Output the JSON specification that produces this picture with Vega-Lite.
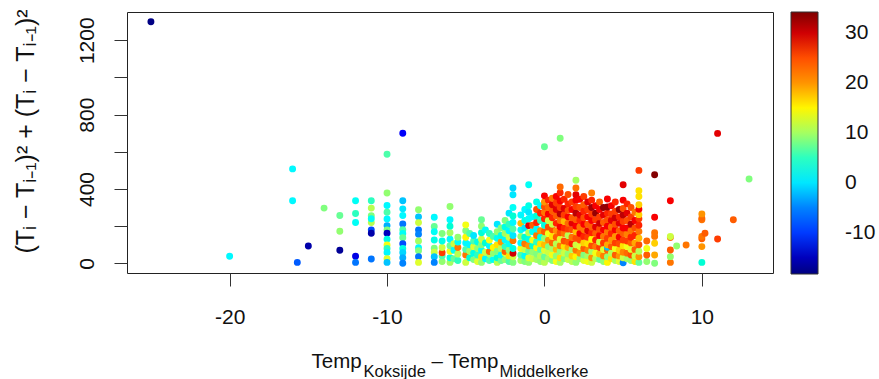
{
"$schema": "https://vega.github.io/schema/vega-lite/v6.json",
"width": 646, "height": 261,
"autosize": {"type": "none"},
"padding": {"left": 127, "top": 12, "right": 106, "bottom": 106},
"background": "white",
"config": {
  "view": {"stroke": "#222", "strokeWidth": 1},
  "axis": {"labelFont": "Liberation Sans", "titleFont": "Liberation Sans", "labelColor": "#111", "titleColor": "#111", "tickColor": "#333", "tickWidth": 1, "grid": false, "domain": false, "tickSize": 13, "labelFontSize": 21, "labelOverlap": false, "labelFlush": false, "titleFontWeight": "normal"}
},
"datasets": {"pts": [
{"x":-25,"y":1300,"c":-18},{"x":-20,"y":38,"c":1},{"x":-16,"y":508,"c":1},{"x":-16,"y":337,"c":1},{"x":-15.7,"y":5,"c":-8},{"x":-15,"y":93,"c":-16},{"x":-14,"y":297,"c":8},
{"x":-13,"y":257,"c":7},{"x":-13,"y":173,"c":9},{"x":-13,"y":70,"c":-17},
{"x":-12,"y":337,"c":2},{"x":-12,"y":268,"c":5},{"x":-12,"y":220,"c":2},{"x":-12,"y":38,"c":-13},{"x":-12,"y":5,"c":-6},
{"x":-11,"y":337,"c":5},{"x":-11,"y":297,"c":11},{"x":-11,"y":256,"c":8},{"x":-11,"y":219,"c":11},{"x":-11,"y":240,"c":2},{"x":-11,"y":180,"c":-9},{"x":-11,"y":162,"c":-16},{"x":-11,"y":23,"c":-6},
{"x":-10,"y":587,"c":6},{"x":-10,"y":378,"c":9},{"x":-10,"y":311,"c":1},{"x":-10,"y":275,"c":6},{"x":-10,"y":239,"c":1},{"x":-10,"y":203,"c":-3},{"x":-10,"y":180,"c":8},{"x":-10,"y":162,"c":-15},{"x":-10,"y":130,"c":3},{"x":-10,"y":99,"c":14},{"x":-10,"y":80,"c":5},{"x":-10,"y":58,"c":1},{"x":-10,"y":25,"c":13},{"x":-10,"y":5,"c":-2},
{"x":-9,"y":700,"c":-12},{"x":-9,"y":337,"c":-2},{"x":-9,"y":293,"c":0},{"x":-9,"y":257,"c":1},{"x":-9,"y":212,"c":-6},{"x":-9,"y":181,"c":6},{"x":-9,"y":160,"c":2},{"x":-9,"y":138,"c":7},{"x":-9,"y":105,"c":-9},{"x":-9,"y":80,"c":3},{"x":-9,"y":58,"c":-1},{"x":-9,"y":30,"c":-3},{"x":-9,"y":0,"c":-5},
{"x":-8,"y":288,"c":9},{"x":-8,"y":250,"c":-2},{"x":-8,"y":219,"c":12},{"x":-8,"y":180,"c":-6},{"x":-8,"y":156,"c":-5},{"x":-8,"y":120,"c":10},{"x":-8,"y":84,"c":1},{"x":-8,"y":68,"c":8},{"x":-8,"y":36,"c":-6},{"x":-8,"y":5,"c":13},
{"x":-7,"y":248,"c":1},{"x":-7,"y":198,"c":7},{"x":-7,"y":170,"c":2},{"x":-7,"y":126,"c":3},{"x":-7,"y":81,"c":8},{"x":-7,"y":60,"c":12},{"x":-7,"y":36,"c":-2},{"x":-7,"y":5,"c":-5},
{"x":-6.5,"y":10,"c":9},{"x":-6.5,"y":40,"c":6},{"x":-6.5,"y":57,"c":26},{"x":-6.5,"y":85,"c":12},{"x":-6.5,"y":120,"c":3},{"x":-6.5,"y":160,"c":8},
{"x":-6,"y":5,"c":10},{"x":-6,"y":30,"c":3},{"x":-6,"y":65,"c":14},{"x":-6,"y":95,"c":7},{"x":-6,"y":130,"c":1},{"x":-6,"y":165,"c":10},{"x":-6,"y":200,"c":4},{"x":-6,"y":234,"c":1},{"x":-6,"y":306,"c":9},
{"x":-5.75,"y":25,"c":7},{"x":-5.75,"y":70,"c":2},{"x":-5.75,"y":105,"c":12},
{"x":-5.5,"y":15,"c":5},{"x":-5.5,"y":50,"c":11},{"x":-5.5,"y":85,"c":22},{"x":-5.5,"y":115,"c":2},{"x":-5.5,"y":140,"c":9},
{"x":-5,"y":5,"c":12},{"x":-5,"y":45,"c":22},{"x":-5,"y":75,"c":6},{"x":-5,"y":110,"c":1},{"x":-5,"y":140,"c":15},{"x":-5,"y":175,"c":8},{"x":-5,"y":207,"c":14},
{"x":-4.75,"y":30,"c":4},{"x":-4.75,"y":65,"c":10},{"x":-4.75,"y":100,"c":1},{"x":-4.75,"y":160,"c":6},
{"x":-4.5,"y":20,"c":8},{"x":-4.5,"y":55,"c":3},{"x":-4.5,"y":90,"c":13},{"x":-4.5,"y":120,"c":6},{"x":-4.5,"y":150,"c":0},
{"x":-4.25,"y":10,"c":13},{"x":-4.25,"y":45,"c":5},{"x":-4.25,"y":80,"c":9},{"x":-4.25,"y":115,"c":3},
{"x":-4,"y":5,"c":9},{"x":-4,"y":35,"c":16},{"x":-4,"y":70,"c":2},{"x":-4,"y":100,"c":8},{"x":-4,"y":130,"c":12},{"x":-4,"y":165,"c":4},{"x":-4,"y":200,"c":9},{"x":-4,"y":234,"c":7},
{"x":-3.75,"y":25,"c":1},{"x":-3.75,"y":60,"c":12},{"x":-3.75,"y":110,"c":4},{"x":-3.75,"y":180,"c":2},
{"x":-3.5,"y":15,"c":6},{"x":-3.5,"y":50,"c":10},{"x":-3.5,"y":63,"c":23},{"x":-3.5,"y":95,"c":1},{"x":-3.5,"y":125,"c":14},{"x":-3.5,"y":160,"c":5},
{"x":-3.25,"y":20,"c":2},{"x":-3.25,"y":55,"c":9},{"x":-3.25,"y":85,"c":15},{"x":-3.25,"y":145,"c":6},
{"x":-3,"y":5,"c":11},{"x":-3,"y":30,"c":4},{"x":-3,"y":65,"c":8},{"x":-3,"y":100,"c":16},{"x":-3,"y":135,"c":2},{"x":-3,"y":170,"c":9},{"x":-3,"y":210,"c":0},
{"x":-2.75,"y":15,"c":7},{"x":-2.75,"y":45,"c":1},{"x":-2.75,"y":80,"c":11},{"x":-2.75,"y":115,"c":20},{"x":-2.75,"y":150,"c":3},{"x":-2.75,"y":190,"c":8},
{"x":-2.5,"y":20,"c":9},{"x":-2.5,"y":55,"c":13},{"x":-2.5,"y":63,"c":24},{"x":-2.5,"y":90,"c":5},{"x":-2.5,"y":125,"c":1},{"x":-2.5,"y":160,"c":10},{"x":-2.5,"y":195,"c":3},{"x":-2.5,"y":230,"c":8},
{"x":-2.25,"y":10,"c":6},{"x":-2.25,"y":40,"c":16},{"x":-2.25,"y":70,"c":9},{"x":-2.25,"y":105,"c":2},{"x":-2.25,"y":140,"c":12},{"x":-2.25,"y":175,"c":1},{"x":-2.25,"y":210,"c":5},{"x":-2.25,"y":270,"c":0},
{"x":-2,"y":5,"c":8},{"x":-2,"y":35,"c":12},{"x":-2,"y":54,"c":30},{"x":-2,"y":80,"c":3},{"x":-2,"y":122,"c":22},{"x":-2,"y":150,"c":0},{"x":-2,"y":185,"c":6},{"x":-2,"y":220,"c":1},{"x":-2,"y":255,"c":4},{"x":-2,"y":300,"c":2},{"x":-2,"y":369,"c":0},{"x":-2,"y":405,"c":-1},
{"x":-1.5,"y":15,"c":10},{"x":-1.5,"y":45,"c":6},{"x":-1.5,"y":80,"c":14},{"x":-1.5,"y":110,"c":1},{"x":-1.5,"y":145,"c":9},{"x":-1.5,"y":180,"c":2},{"x":-1.5,"y":215,"c":18},{"x":-1.5,"y":260,"c":1},
{"x":-1.25,"y":10,"c":8},{"x":-1.25,"y":40,"c":2},{"x":-1.25,"y":75,"c":12},{"x":-1.25,"y":105,"c":22},{"x":-1.25,"y":140,"c":4},{"x":-1.25,"y":190,"c":0},{"x":-1.25,"y":230,"c":3},{"x":-1.25,"y":290,"c":1},
{"x":-1,"y":5,"c":9},{"x":-1,"y":30,"c":13},{"x":-1,"y":65,"c":7},{"x":-1,"y":95,"c":20},{"x":-1,"y":130,"c":3},{"x":-1,"y":165,"c":11},{"x":-1,"y":203,"c":29},{"x":-1,"y":240,"c":2},{"x":-1,"y":275,"c":0},{"x":-1,"y":310,"c":3},{"x":-1,"y":423,"c":2},
{"x":-0.75,"y":25,"c":12},{"x":-0.75,"y":60,"c":9},{"x":-0.75,"y":95,"c":4},{"x":-0.75,"y":125,"c":14},{"x":-0.75,"y":170,"c":2},{"x":-0.75,"y":205,"c":24},{"x":-0.75,"y":250,"c":1},
{"x":-0.5,"y":20,"c":10},{"x":-0.5,"y":50,"c":8},{"x":-0.5,"y":85,"c":15},{"x":-0.5,"y":115,"c":5},{"x":-0.5,"y":150,"c":22},{"x":-0.5,"y":185,"c":1},{"x":-0.5,"y":220,"c":27},{"x":-0.5,"y":255,"c":4},{"x":-0.5,"y":290,"c":25},{"x":-0.5,"y":330,"c":3},
{"x":-0.25,"y":10,"c":9},{"x":-0.25,"y":40,"c":11},{"x":-0.25,"y":75,"c":6},{"x":-0.25,"y":105,"c":16},{"x":-0.25,"y":140,"c":3},{"x":-0.25,"y":175,"c":20},{"x":-0.25,"y":230,"c":5},{"x":-0.25,"y":270,"c":27},{"x":-0.25,"y":310,"c":1},
{"x":0,"y":5,"c":11},{"x":0,"y":35,"c":7},{"x":0,"y":70,"c":13},{"x":0,"y":100,"c":18},{"x":0,"y":135,"c":9},{"x":0,"y":170,"c":24},{"x":0,"y":205,"c":3},{"x":0,"y":240,"c":27},{"x":0,"y":275,"c":22},{"x":0,"y":305,"c":25},{"x":0,"y":330,"c":20},{"x":0,"y":363,"c":28},{"x":0,"y":627,"c":7},
{"x":0.25,"y":25,"c":10},{"x":0.25,"y":60,"c":12},{"x":0.25,"y":90,"c":8},{"x":0.25,"y":125,"c":20},{"x":0.25,"y":160,"c":14},{"x":0.25,"y":195,"c":25},{"x":0.25,"y":230,"c":12},{"x":0.25,"y":265,"c":28},{"x":0.25,"y":300,"c":23},{"x":0.25,"y":340,"c":27},
{"x":0.5,"y":15,"c":8},{"x":0.5,"y":45,"c":14},{"x":0.5,"y":80,"c":10},{"x":0.5,"y":110,"c":23},{"x":0.5,"y":145,"c":16},{"x":0.5,"y":180,"c":25},{"x":0.5,"y":210,"c":12},{"x":0.5,"y":245,"c":27},{"x":0.5,"y":280,"c":24},{"x":0.5,"y":315,"c":29},{"x":0.5,"y":350,"c":22},
{"x":0.75,"y":10,"c":14},{"x":0.75,"y":40,"c":9},{"x":0.75,"y":75,"c":18},{"x":0.75,"y":105,"c":11},{"x":0.75,"y":140,"c":24},{"x":0.75,"y":175,"c":20},{"x":0.75,"y":215,"c":27},{"x":0.75,"y":255,"c":24},{"x":0.75,"y":290,"c":29},{"x":0.75,"y":325,"c":26},{"x":0.75,"y":360,"c":28},
{"x":1,"y":5,"c":10},{"x":1,"y":30,"c":16},{"x":1,"y":65,"c":9},{"x":1,"y":95,"c":21},{"x":1,"y":130,"c":13},{"x":1,"y":165,"c":25},{"x":1,"y":195,"c":28},{"x":1,"y":230,"c":22},{"x":1,"y":265,"c":31},{"x":1,"y":300,"c":26},{"x":1,"y":335,"c":28},{"x":1,"y":380,"c":27},{"x":1,"y":411,"c":23},{"x":1,"y":673,"c":8},
{"x":1.25,"y":25,"c":8},{"x":1.25,"y":55,"c":12},{"x":1.25,"y":90,"c":16},{"x":1.25,"y":120,"c":25},{"x":1.25,"y":160,"c":22},{"x":1.25,"y":190,"c":27},{"x":1.25,"y":225,"c":18},{"x":1.25,"y":260,"c":26},{"x":1.25,"y":295,"c":29},{"x":1.25,"y":345,"c":27},
{"x":1.5,"y":20,"c":12},{"x":1.5,"y":50,"c":9},{"x":1.5,"y":85,"c":19},{"x":1.5,"y":115,"c":24},{"x":1.5,"y":150,"c":11},{"x":1.5,"y":185,"c":26},{"x":1.5,"y":215,"c":23},{"x":1.5,"y":250,"c":28},{"x":1.5,"y":285,"c":25},{"x":1.5,"y":320,"c":27},{"x":1.5,"y":370,"c":25},
{"x":1.75,"y":10,"c":11},{"x":1.75,"y":40,"c":17},{"x":1.75,"y":75,"c":10},{"x":1.75,"y":105,"c":27},{"x":1.75,"y":140,"c":22},{"x":1.75,"y":180,"c":25},{"x":1.75,"y":215,"c":29},{"x":1.75,"y":245,"c":24},{"x":1.75,"y":290,"c":28},{"x":1.75,"y":330,"c":26},
{"x":2,"y":5,"c":9},{"x":2,"y":35,"c":15},{"x":2,"y":70,"c":22},{"x":2,"y":100,"c":12},{"x":2,"y":135,"c":25},{"x":2,"y":170,"c":18},{"x":2,"y":200,"c":28},{"x":2,"y":235,"c":24},{"x":2,"y":270,"c":31},{"x":2,"y":305,"c":26},{"x":2,"y":340,"c":28},{"x":2,"y":369,"c":29},{"x":2,"y":405,"c":22},{"x":2,"y":447,"c":10},
{"x":2.25,"y":25,"c":9},{"x":2.25,"y":55,"c":20},{"x":2.25,"y":90,"c":13},{"x":2.25,"y":125,"c":25},{"x":2.25,"y":160,"c":28},{"x":2.25,"y":195,"c":22},{"x":2.25,"y":230,"c":27},{"x":2.25,"y":260,"c":29},{"x":2.25,"y":300,"c":25},{"x":2.25,"y":345,"c":28},
{"x":2.5,"y":15,"c":13},{"x":2.5,"y":45,"c":8},{"x":2.5,"y":80,"c":24},{"x":2.5,"y":110,"c":17},{"x":2.5,"y":145,"c":27},{"x":2.5,"y":180,"c":22},{"x":2.5,"y":210,"c":28},{"x":2.5,"y":245,"c":25},{"x":2.5,"y":280,"c":27},{"x":2.5,"y":315,"c":24},{"x":2.5,"y":360,"c":26},
{"x":2.75,"y":10,"c":14},{"x":2.75,"y":40,"c":10},{"x":2.75,"y":70,"c":21},{"x":2.75,"y":105,"c":16},{"x":2.75,"y":140,"c":26},{"x":2.75,"y":175,"c":29},{"x":2.75,"y":210,"c":24},{"x":2.75,"y":250,"c":28},{"x":2.75,"y":290,"c":26},{"x":2.75,"y":330,"c":29},
{"x":3,"y":5,"c":12},{"x":3,"y":30,"c":20},{"x":3,"y":65,"c":10},{"x":3,"y":95,"c":25},{"x":3,"y":130,"c":15},{"x":3,"y":165,"c":27},{"x":3,"y":195,"c":24},{"x":3,"y":230,"c":28},{"x":3,"y":265,"c":26},{"x":3,"y":300,"c":32},{"x":3,"y":340,"c":27},{"x":3,"y":378,"c":21},
{"x":3.25,"y":25,"c":11},{"x":3.25,"y":55,"c":14},{"x":3.25,"y":90,"c":22},{"x":3.25,"y":125,"c":27},{"x":3.25,"y":160,"c":24},{"x":3.25,"y":195,"c":29},{"x":3.25,"y":235,"c":26},{"x":3.25,"y":270,"c":33},{"x":3.25,"y":310,"c":28},
{"x":3.5,"y":20,"c":7},{"x":3.5,"y":50,"c":18},{"x":3.5,"y":85,"c":26},{"x":3.5,"y":115,"c":12},{"x":3.5,"y":150,"c":28},{"x":3.5,"y":185,"c":25},{"x":3.5,"y":215,"c":30},{"x":3.5,"y":250,"c":26},{"x":3.5,"y":290,"c":28},{"x":3.5,"y":330,"c":24},
{"x":3.75,"y":10,"c":9},{"x":3.75,"y":40,"c":21},{"x":3.75,"y":75,"c":13},{"x":3.75,"y":110,"c":26},{"x":3.75,"y":145,"c":22},{"x":3.75,"y":180,"c":28},{"x":3.75,"y":220,"c":24},{"x":3.75,"y":260,"c":29},{"x":3.75,"y":300,"c":33},
{"x":4,"y":5,"c":15},{"x":4,"y":35,"c":9},{"x":4,"y":70,"c":23},{"x":4,"y":86,"c":-2},{"x":4,"y":100,"c":19},{"x":4,"y":135,"c":26},{"x":4,"y":170,"c":22},{"x":4,"y":200,"c":28},{"x":4,"y":235,"c":25},{"x":4,"y":270,"c":27},{"x":4,"y":303,"c":33},{"x":4,"y":346,"c":28},
{"x":4.25,"y":25,"c":16},{"x":4.25,"y":55,"c":11},{"x":4.25,"y":90,"c":24},{"x":4.25,"y":125,"c":20},{"x":4.25,"y":160,"c":27},{"x":4.25,"y":195,"c":23},{"x":4.25,"y":230,"c":29},{"x":4.25,"y":265,"c":26},{"x":4.25,"y":310,"c":28},
{"x":4.5,"y":15,"c":10},{"x":4.5,"y":45,"c":24},{"x":4.5,"y":80,"c":14},{"x":4.5,"y":110,"c":26},{"x":4.5,"y":145,"c":20},{"x":4.5,"y":180,"c":28},{"x":4.5,"y":210,"c":25},{"x":4.5,"y":245,"c":30},{"x":4.5,"y":280,"c":26},{"x":4.5,"y":330,"c":27},
{"x":4.75,"y":10,"c":13},{"x":4.75,"y":40,"c":20},{"x":4.75,"y":70,"c":17},{"x":4.75,"y":105,"c":25},{"x":4.75,"y":140,"c":28},{"x":4.75,"y":175,"c":24},{"x":4.75,"y":215,"c":29},{"x":4.75,"y":250,"c":27},{"x":4.75,"y":290,"c":33},
{"x":5,"y":3,"c":-5},{"x":5,"y":30,"c":12},{"x":5,"y":60,"c":21},{"x":5,"y":95,"c":16},{"x":5,"y":125,"c":26},{"x":5,"y":160,"c":24},{"x":5,"y":190,"c":28},{"x":5,"y":225,"c":26},{"x":5,"y":260,"c":31},{"x":5,"y":295,"c":25},{"x":5,"y":340,"c":28},{"x":5,"y":423,"c":29},
{"x":5.25,"y":25,"c":10},{"x":5.25,"y":55,"c":23},{"x":5.25,"y":90,"c":14},{"x":5.25,"y":120,"c":26},{"x":5.25,"y":155,"c":21},{"x":5.25,"y":190,"c":28},{"x":5.25,"y":230,"c":25},{"x":5.25,"y":270,"c":29},{"x":5.25,"y":320,"c":27},
{"x":5.5,"y":15,"c":9},{"x":5.5,"y":45,"c":25},{"x":5.5,"y":75,"c":13},{"x":5.5,"y":110,"c":24},{"x":5.5,"y":140,"c":27},{"x":5.5,"y":175,"c":22},{"x":5.5,"y":210,"c":31},{"x":5.5,"y":250,"c":26},{"x":5.5,"y":300,"c":25},
{"x":5.75,"y":10,"c":16},{"x":5.75,"y":40,"c":12},{"x":5.75,"y":75,"c":24},{"x":5.75,"y":110,"c":19},{"x":5.75,"y":150,"c":27},{"x":5.75,"y":190,"c":25},{"x":5.75,"y":230,"c":28},{"x":5.75,"y":275,"c":22},
{"x":6,"y":5,"c":7},{"x":6,"y":35,"c":20},{"x":6,"y":65,"c":11},{"x":6,"y":100,"c":25},{"x":6,"y":135,"c":18},{"x":6,"y":171,"c":22},{"x":6,"y":205,"c":27},{"x":6,"y":240,"c":26},{"x":6,"y":262,"c":17},{"x":6,"y":291,"c":28},{"x":6,"y":315,"c":17},{"x":6,"y":360,"c":16},{"x":6,"y":391,"c":16},{"x":6,"y":500,"c":26},
{"x":6.5,"y":10,"c":9},{"x":6.5,"y":45,"c":24},{"x":6.5,"y":80,"c":14},{"x":6.5,"y":120,"c":23},
{"x":7,"y":0,"c":8},{"x":7,"y":45,"c":19},{"x":7,"y":108,"c":17},{"x":7,"y":145,"c":22},{"x":7,"y":165,"c":22},{"x":7,"y":248,"c":28},{"x":7,"y":477,"c":34},
{"x":8,"y":5,"c":22},{"x":8,"y":36,"c":9},{"x":8,"y":72,"c":24},{"x":8,"y":139,"c":22},{"x":8,"y":144,"c":12},{"x":8,"y":337,"c":28},
{"x":8.4,"y":93,"c":9},{"x":9,"y":99,"c":22},
{"x":10,"y":5,"c":4},{"x":10,"y":90,"c":20},{"x":10,"y":132,"c":24},{"x":10,"y":144,"c":22},{"x":10,"y":234,"c":22},{"x":10,"y":243,"c":23},{"x":10,"y":266,"c":20},
{"x":10.2,"y":162,"c":24},{"x":11,"y":131,"c":26},{"x":11,"y":699,"c":29},{"x":12,"y":234,"c":24},{"x":13,"y":454,"c":8}
]},
"layer": [
 {
  "data": {"name": "pts"},
  "mark": {"type": "circle", "size": 48, "opacity": 1},
  "encoding": {
   "x": {"field": "x", "type": "quantitative",
     "scale": {"domain": [-26.52, 14.52], "nice": false, "zero": false},
     "axis": {"orient": "bottom", "values": [-20, -10, 0, 10], "labelExpr": "'' + datum.value", "labelBaseline": "alphabetic", "labelPadding": 37,
       "title": "Temp", "titleFontSize": 20.5, "titleX": 184, "titleY": 94.7, "titleAlign": "left", "titleBaseline": "alphabetic", "titleAnchor": null}},
   "y": {"field": "y", "type": "quantitative",
     "scale": {"domain": [-52, 1352], "nice": false, "zero": false},
     "axis": {"values": [0, 200, 400, 600, 800, 1000, 1200], "labelAngle": 270, "labelAlign": "center", "labelBaseline": "alphabetic", "labelPadding": 21,
       "labelExpr": "datum.value % 400 === 0 ? '' + datum.value : ''",
       "title": "(Tᵢ − Tᵢ₋₁)² + (Tᵢ − Tᵢ₋₁)²", "titleFontSize": 25, "titleAngle": 270, "titleX": -94, "titleY": 119, "titleAlign": "center", "titleBaseline": "alphabetic", "titleAnchor": null}},
   "color": {"field": "c", "type": "quantitative",
     "scale": {"domain": [-18.3, -11.7375, -5.175, 1.3875, 7.95, 14.5125, 21.075, 27.6375, 34.2],
               "range": ["#00007F", "#0000FF", "#007FFF", "#00FFFF", "#7FFF7F", "#FFFF00", "#FF7F00", "#FF0000", "#7F0000"]},
     "legend": {"orient": "none", "legendX": 664, "legendY": 0, "title": null, "direction": "vertical",
       "gradientLength": 262, "gradientThickness": 27, "gradientStrokeColor": "#333", "gradientStrokeWidth": 1,
       "values": [-10, 0, 10, 20, 30], "labelExpr": "'' + datum.value", "labelFontSize": 21, "labelFont": "Liberation Sans", "labelOffset": 27, "labelColor": "#111", "padding": 0, "labelOverlap": false}}
  }
 },
 {
  "data": {"values": []},
  "mark": "point",
  "encoding": {"x": {"field": "x", "type": "quantitative",
    "axis": {"orient": "bottom", "ticks": false, "labels": false, "title": "Koksijde", "titleFontSize": 16.5, "titleX": 236, "titleY": 103, "titleAlign": "left", "titleBaseline": "alphabetic", "titleAnchor": null}}}
 },
 {
  "data": {"values": []},
  "mark": "point",
  "encoding": {"x": {"field": "x", "type": "quantitative",
    "axis": {"orient": "bottom", "ticks": false, "labels": false, "title": "– Temp", "titleFontSize": 20.5, "titleX": 304, "titleY": 94.7, "titleAlign": "left", "titleBaseline": "alphabetic", "titleAnchor": null}}}
 },
 {
  "data": {"values": []},
  "mark": "point",
  "encoding": {"x": {"field": "x", "type": "quantitative",
    "axis": {"orient": "bottom", "ticks": false, "labels": false, "title": "Middelkerke", "titleFontSize": 16.5, "titleX": 372, "titleY": 103, "titleAlign": "left", "titleBaseline": "alphabetic", "titleAnchor": null}}}
 }
],
"resolve": {"axis": {"x": "independent"}}
}
